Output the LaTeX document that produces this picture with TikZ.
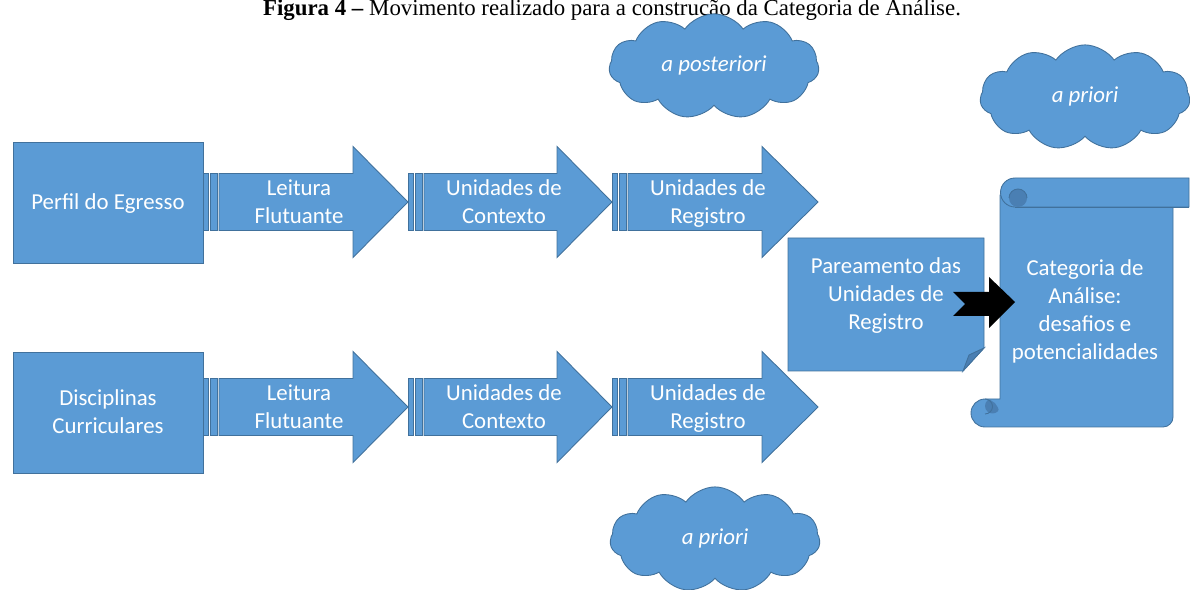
\documentclass[tikz,border=0pt]{standalone}
\usepackage{fontspec}
\setmainfont{Carlito}
\newfontfamily\capfont{Liberation Serif}
\usetikzlibrary{shapes.symbols}
\definecolor{ofblue}{HTML}{5B9BD5}
\definecolor{ofedge}{HTML}{41719C}
\definecolor{ofdark}{HTML}{4A7FB3}
\newcommand\chevarrow[6]{% #1 name, #2 x0, #3 cy, #4 head start, #5 tip, #6 text
  \draw[shapefill] (#2,#3-28.5) rectangle (#2+5,#3+28.5);
  \draw[shapefill] (#2+7,#3-28.5) rectangle (#2+14,#3+28.5);
  \draw[shapefill] (#2+16,#3-28.5) -- (#4,#3-28.5) -- (#4,#3-55.5) -- (#5,#3)
     -- (#4,#3+55.5) -- (#4,#3+28.5) -- (#2+16,#3+28.5) -- cycle;
  \node[lbl] (#1) at (#2+96,#3+2) {#6};
}
\newcommand\stln[1]{\strut#1}
\begin{document}
\begin{tikzpicture}[x=0.02cm,y=-0.02cm,
  shapefill/.style={fill=ofblue,draw=ofedge,line width=0.5pt},
  lbl/.style={text=white,font=\fontsize{13}{15.9}\selectfont,align=center,inner sep=0pt},
  boxnode/.style={shapefill,lbl,minimum width=3.8cm,minimum height=2.42cm},
  cloudnode/.style={cloud,cloud puffs=11,cloud puff arc=110,aspect=2.1,shapefill,lbl,
     font=\fontsize{13}{15.9}\selectfont\itshape,minimum width=4.2cm,minimum height=2.1cm}]
\useasboundingbox (0,0) rectangle (1190,590);

% caption (at the top edge)
\node[anchor=base,inner sep=0pt,font=\capfont\fontsize{13}{15}\selectfont] (caption) at (612,16)
  {\textbf{Figura 4 –} Movimento realizado para a construção da Categoria de Análise.};

% left boxes
\node[shapefill,minimum width=3.8cm,minimum height=2.42cm] (perfil) at (108,202.5) {};
\node[lbl] (perfiltxt) at (108,204) {\stln{Perfil do Egresso}};
\node[shapefill,minimum width=3.8cm,minimum height=2.42cm] (disc) at (108,412.5) {};
\node[lbl] (disctxt) at (108,414) {\stln{Disciplinas}\\\stln{Curriculares}};

% row 1 arrows
\chevarrow{leit1}{203}{202}{353}{408}{\stln{Leitura}\\\stln{Flutuante}}
\chevarrow{ctx1}{408}{202}{557}{612}{\stln{Unidades de}\\\stln{Contexto}}
\chevarrow{reg1}{612}{202}{762}{818}{\stln{Unidades de}\\\stln{Registro}}
% row 2 arrows
\chevarrow{leit2}{203}{407}{353}{408}{\stln{Leitura}\\\stln{Flutuante}}
\chevarrow{ctx2}{408}{407}{557}{612}{\stln{Unidades de}\\\stln{Contexto}}
\chevarrow{reg2}{612}{407}{762}{818}{\stln{Unidades de}\\\stln{Registro}}

% pareamento box with folded corner
\draw[shapefill] (788,238) -- (984,238) -- (984,348) -- (963,371) -- (788,371) -- cycle;
\draw[shapefill,fill=ofdark] (963,371) -- (969,355) -- (984,348) -- cycle;
\node[lbl] (pareamento) at (886,295.5) {\stln{Pareamento das}\\\stln{Unidades de}\\\stln{Registro}};

% scroll
\draw[shapefill] (1000,195) -- (1000,399) -- (985,399)
   arc[start angle=270,end angle=90,radius=14] -- (1163,427)
   arc[start angle=90,end angle=0,radius=10] -- (1173,195) -- cycle;
\begin{scope}
  \clip (985,413) circle[radius=14];
  \fill[ofdark] (992.5,406) circle[radius=7.5];
\end{scope}
\draw[ofedge,line width=0.5pt] (985,399) arc[start angle=270,end angle=450,radius=7.5];
\draw[shapefill] (1015,178) -- (1189,178) -- (1189,207) -- (1015,207)
   arc[start angle=90,end angle=270,radius=14.5];
\begin{scope}
  \clip (1000,207) rectangle (1030,189);
  \fill[ofdark] (1018,198) circle[radius=9];
\end{scope}
\draw[ofedge,line width=0.5pt] (1009,198) arc[start angle=180,end angle=360,radius=9];
\draw[ofedge,line width=0.5pt] (1015,207) -- (1189,207);
\node[lbl] (categoria) at (1085,312) {\stln{Categoria de}\\\stln{Análise:}\\\stln{desafios e}\\\stln{potencialidades}};

% black arrow between pareamento and categoria
\coordinate (bs) at (953,292);
\fill[black] (bs) -- (989,292) -- (989,277) -- (1015,302) -- (989,328) -- (989,316)
   -- (953,316) -- (965,304) -- cycle;

% clouds
\node[cloudnode] (post) at (714,66.4) {\stln{a posteriori}};
\node[cloudnode] (prio1) at (1085,97.4) {\stln{a priori}};
\node[cloudnode] (prio2) at (715,539.4) {\stln{a priori}};
\end{tikzpicture}
\end{document}
